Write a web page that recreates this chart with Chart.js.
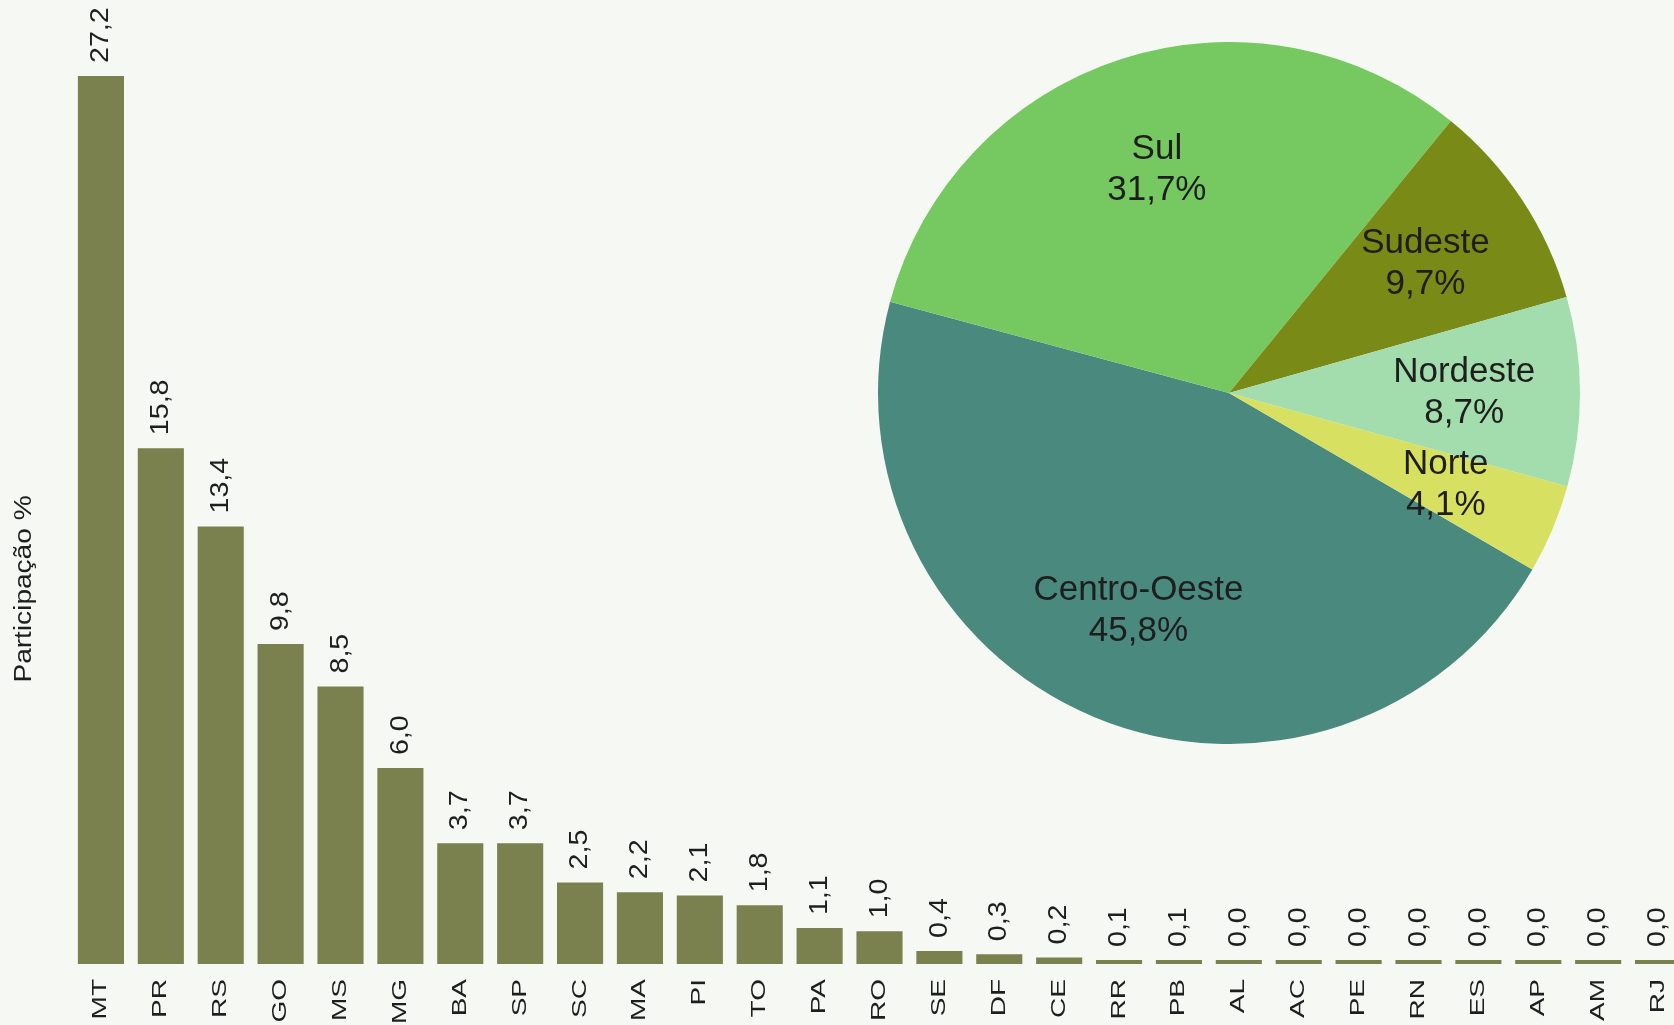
<!DOCTYPE html>
<html>
<head>
<meta charset="utf-8">
<script src="https://cdn.jsdelivr.net/npm/chart.js@4"></script>
<style>
  html, body { margin: 0; padding: 0; background: #f6f8f4; overflow: hidden; }
  #wrap { position: relative; width: 1674px; height: 1025px; overflow: hidden; }
  #barCtx { position: absolute; left: 0; top: 0; }
  #pieCtx { position: absolute; left: 878px; top: 42px; }
</style>
</head>
<body>
<div id="wrap">
  <canvas id="barCtx" width="1690" height="1025"></canvas>
  <canvas id="pieCtx" width="702" height="702"></canvas>
</div>
<script>
// participação por estado (%)
const states = ['MT','PR','RS','GO','MS','MG','BA','SP','SC','MA','PI','TO','PA','RO','SE','DF','CE','RR','PB','AL','AC','PE','RN','ES','AP','AM','RJ'];
const shares = [27.2,15.8,13.4,9.8,8.5,6.0,3.7,3.7,2.5,2.2,2.1,1.8,1.1,1.0,0.4,0.3,0.2,0.1,0.1,0.0,0.0,0.0,0.0,0.0,0.0,0.0,0.0];

// participação por região (%)
const regions = ['Centro-Oeste','Sul','Sudeste','Nordeste','Norte'];
const regionShares = [45.8,31.7,9.7,8.7,4.1];
const regionColors = ['#4a897e','#76c961','#7a8a17','#a3dcad','#d8e061'];

const yTitle = 'Participação %';
const FONT = '"Liberation Sans", Arial, sans-serif';
const TEXT = '#1e1e1e';

const fmt = v => v.toFixed(1).replace('.', ',');

// rotated text, stretched along its length like the original
function upText(ctx, str, x, y, align, stretch) {
  ctx.save();
  ctx.translate(x, y);
  ctx.rotate(-Math.PI / 2);
  ctx.scale(stretch, 1);
  ctx.textAlign = align;
  ctx.fillText(str, 0, 0);
  ctx.restore();
}

// value labels, category labels and y title
const barLabels = {
  id: 'barLabels',
  afterDatasetsDraw(chart) {
    const ctx = chart.ctx;
    const meta = chart.getDatasetMeta(0);
    const xs = chart.scales.x;
    ctx.save();
    ctx.fillStyle = TEXT;
    ctx.textBaseline = 'middle';
    ctx.font = '26px ' + FONT;
    meta.data.forEach((bar, i) => {
      upText(ctx, fmt(shares[i]), bar.x, bar.y - 13, 'left', 1.1);
    });
    ctx.font = '20px ' + FONT;
    states.forEach((s, i) => {
      upText(ctx, s, xs.getPixelForValue(i), chart.chartArea.bottom + 15, 'right', 1.4);
    });
    ctx.font = '23px ' + FONT;
    upText(ctx, yTitle, 25, 589, 'center', 1.22);
    ctx.restore();
  }
};

const barChart = new Chart(document.getElementById('barCtx').getContext('2d'), {
  type: 'bar',
  data: {
    labels: states,
    datasets: [{
      data: shares,
      backgroundColor: '#7a804e',
      borderWidth: 0,
      minBarLength: 4,
      barPercentage: 0.77,
      categoryPercentage: 1
    }]
  },
  options: {
    responsive: false,
    animation: false,
    layout: { padding: { left: 71, top: 76, right: 2, bottom: 0 } },
    plugins: { legend: { display: false }, tooltip: { enabled: false } },
    scales: {
      x: {
        grid: { display: false },
        border: { display: false },
        ticks: { display: false },
        afterFit(scale) {
          scale.height = 61;
          scale.paddingLeft = 0;
          scale.paddingRight = 0;
        }
      },
      y: { display: false, min: 0, max: 27.2 }
    }
  },
  plugins: [barLabels]
});

// two-line labels inside slices
const sliceLabels = {
  id: 'sliceLabels',
  afterDatasetsDraw(chart) {
    const ctx = chart.ctx;
    const meta = chart.getDatasetMeta(0);
    ctx.save();
    ctx.fillStyle = TEXT;
    ctx.font = '35px ' + FONT;
    ctx.textAlign = 'center';
    ctx.textBaseline = 'middle';
    meta.data.forEach((arc, i) => {
      const p = arc.getProps(['x', 'y', 'startAngle', 'endAngle', 'outerRadius']);
      const mid = (p.startAngle + p.endAngle) / 2;
      const r = p.outerRadius * 0.67;
      const cx = p.x + Math.cos(mid) * r;
      const cy = p.y + Math.sin(mid) * r;
      ctx.fillText(regions[i], cx, cy - 20);
      ctx.fillText(fmt(regionShares[i]) + '%', cx, cy + 21);
    });
    ctx.restore();
  }
};

const pieChart = new Chart(document.getElementById('pieCtx').getContext('2d'), {
  type: 'pie',
  data: {
    labels: regions,
    datasets: [{
      data: regionShares,
      backgroundColor: regionColors,
      borderWidth: 0
    }]
  },
  options: {
    responsive: false,
    animation: false,
    rotation: 120.2,
    layout: { padding: 0 },
    plugins: { legend: { display: false }, tooltip: { enabled: false } }
  },
  plugins: [sliceLabels]
});
</script>
</body>
</html>
